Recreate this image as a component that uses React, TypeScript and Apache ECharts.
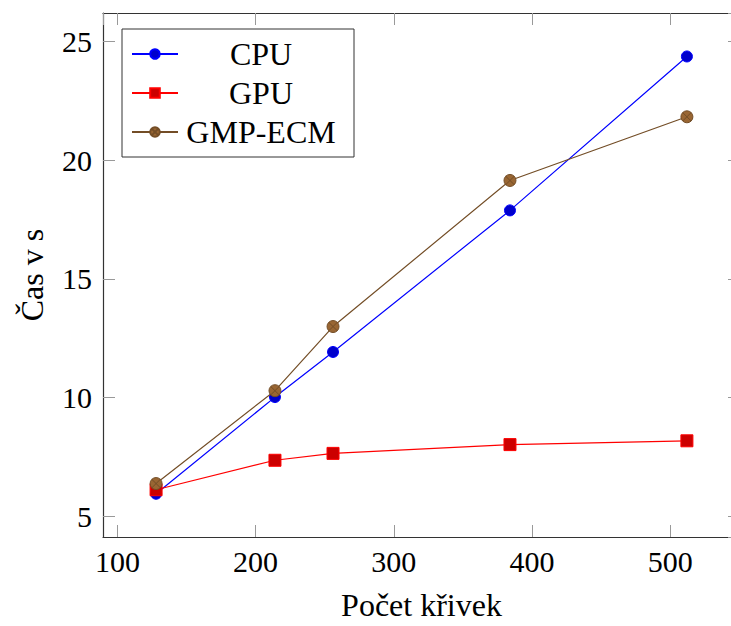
import React, { useEffect, useRef } from "react";
import * as echarts from "echarts";

const xValues = [128, 214, 256, 384, 512];
const cpuTimes = [5.95, 10.02, 11.92, 17.88, 24.36];
const gpuTimes = [6.12, 7.36, 7.65, 8.02, 8.18];
const gmpTimes = [6.38, 10.29, 12.99, 19.14, 21.82];
const seriesNames = ["CPU", "GPU", "GMP-ECM"];
const xTitle = "Počet křivek";
const yTitle = "Čas v s";

const FONT = "Liberation Serif";
const OTIMES =
  "path://M12,6A6,6 0 1,1 0,6A6,6 0 1,1 12,6ZM1.76,1.76L10.24,10.24M10.24,1.76L1.76,10.24";

const CHART_W = 750;
const CHART_H = 626;

export default function App() {
  const ref = useRef<HTMLDivElement>(null);
  useEffect(() => {
    if (!ref.current) return;
    const chart = echarts.init(ref.current, undefined, { renderer: "svg" });
    const pairs = (ys: number[]) => xValues.map((x, i) => [x, ys[i]]);
    const axisLine = { show: true, lineStyle: { color: "#333", width: 1.2 } };
    const tick = { show: true, inside: true, length: 12, lineStyle: { color: "#999", width: 1 } };
    const txt = { fontFamily: FONT, color: "#000" };
    chart.setOption({
      animation: false,
      backgroundColor: "#fff",
      textStyle: { fontFamily: FONT },
      grid: { left: 103, right: CHART_W - 740, top: 13, bottom: 81, containLabel: false },
      legend: {
        orient: "vertical",
        left: 122,
        top: 29,
        padding: [9, 15, 9, 9],
        itemGap: 7,
        itemWidth: 46,
        itemHeight: 12,
        borderColor: "#333",
        borderWidth: 1,
        backgroundColor: "#fff",
        data: seriesNames,
        formatter: (n: string) => `{t|${n}}`,
        textStyle: {
          ...txt,
          fontSize: 32,
          rich: {
            t: { width: 156, align: "center", fontSize: 32, lineHeight: 30, ...txt },
          },
        },
      },
      xAxis: [
        {
          type: "value",
          min: 89.6,
          max: 550.4,
          splitNumber: 5,
          name: xTitle,
          nameLocation: "middle",
          nameGap: 52,
          nameTextStyle: { fontSize: 32, ...txt },
          axisLine,
          axisTick: tick,
          splitLine: { show: false },
          axisLabel: {
            margin: 9,
            fontSize: 30,
            ...txt,
            showMinLabel: false,
            showMaxLabel: false,
          },
        },
        {
          type: "value",
          position: "top",
          min: 89.6,
          max: 550.4,
          splitNumber: 5,
          axisLine,
          axisTick: tick,
          splitLine: { show: false },
          axisLabel: { show: false },
        },
      ],
      yAxis: [
        {
          type: "value",
          min: 4.13,
          max: 26.19,
          splitNumber: 5,
          name: yTitle,
          nameLocation: "middle",
          nameGap: 55,
          nameRotate: 90,
          nameTextStyle: { fontSize: 32, ...txt },
          axisLine,
          axisTick: tick,
          splitLine: { show: false },
          axisLabel: {
            margin: 11,
            fontSize: 30,
            ...txt,
            showMinLabel: false,
            showMaxLabel: false,
          },
        },
        {
          type: "value",
          position: "right",
          min: 4.13,
          max: 26.19,
          splitNumber: 5,
          axisLine,
          axisTick: tick,
          splitLine: { show: false },
          axisLabel: { show: false },
        },
      ],
      series: [
        {
          name: seriesNames[0],
          type: "line",
          data: pairs(cpuTimes),
          symbol: "circle",
          symbolSize: 11,
          lineStyle: { color: "#0000ff", width: 1.2 },
          itemStyle: { color: "#0000cc", borderColor: "#0000ff", borderWidth: 1 },
          z: 3,
        },
        {
          name: seriesNames[1],
          type: "line",
          data: pairs(gpuTimes),
          symbol: "rect",
          symbolSize: 12,
          lineStyle: { color: "#ff0000", width: 1.2 },
          itemStyle: { color: "#cc0000", borderColor: "#ff0000", borderWidth: 1 },
          z: 4,
        },
        {
          name: seriesNames[2],
          type: "line",
          data: pairs(gmpTimes),
          symbol: OTIMES,
          symbolSize: 12,
          lineStyle: { color: "#734d26", width: 1.2 },
          itemStyle: { color: "#996633", borderColor: "#734d26", borderWidth: 1 },
          z: 5,
        },
      ],
    });
    return () => chart.dispose();
  }, []);
  return (
    <div style={{ position: "fixed", left: 0, top: 0, width: 731, height: 626, overflow: "hidden", background: "#fff" }}>
      <div ref={ref} style={{ width: CHART_W, height: CHART_H }} />
    </div>
  );
}
